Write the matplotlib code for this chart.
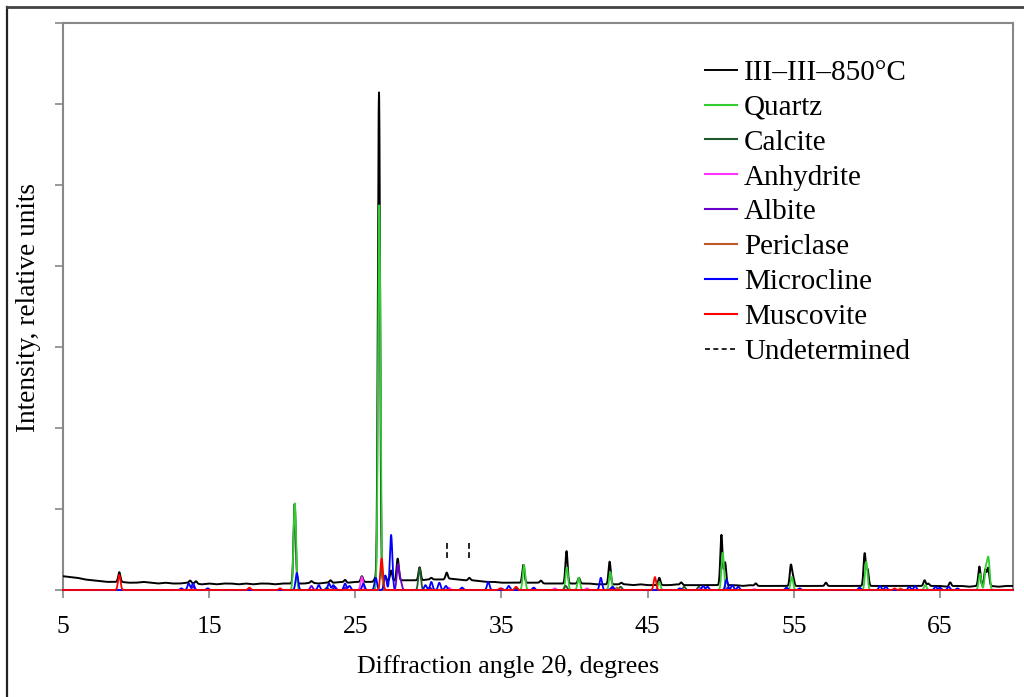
import numpy as np
import matplotlib
matplotlib.use("Agg")
import matplotlib.pyplot as plt
from matplotlib.lines import Line2D

plt.rcParams['font.family'] = ['Liberation Serif', 'DejaVu Serif']

# ---------------- data ----------------
x_ticks = [5, 15, 25, 35, 45, 55, 65]

# background of measured pattern, every 0.5 degree from 5 to 70
bg_start, bg_step = 5.0, 0.5
bg_values = [0.17, 0.16, 0.15, 0.13, 0.12, 0.11, 0.10, 0.10, 0.10, 0.09,
             0.09, 0.10, 0.09, 0.08, 0.09, 0.08, 0.08, 0.09, 0.08, 0.07,
             0.08, 0.07, 0.08, 0.08, 0.07, 0.08, 0.07, 0.08, 0.08, 0.07,
             0.08, 0.08, 0.08, 0.08, 0.09, 0.08, 0.09, 0.09, 0.10, 0.09,
             0.10, 0.10, 0.10, 0.10, 0.11, 0.11, 0.12, 0.12, 0.12, 0.12,
             0.13, 0.13, 0.13, 0.14, 0.13, 0.12, 0.12, 0.11, 0.10, 0.10,
             0.09, 0.09, 0.09, 0.09, 0.09, 0.09, 0.08, 0.08, 0.08, 0.08,
             0.08, 0.08, 0.08, 0.07, 0.07, 0.07, 0.07, 0.07, 0.06, 0.07,
             0.06, 0.06, 0.06, 0.06, 0.07, 0.06, 0.06, 0.06, 0.06, 0.06,
             0.06, 0.06, 0.06, 0.05, 0.06, 0.05, 0.05, 0.05, 0.05, 0.05,
             0.05, 0.05, 0.05, 0.05, 0.05, 0.05, 0.05, 0.05, 0.05, 0.05,
             0.05, 0.05, 0.05, 0.05, 0.05, 0.05, 0.05, 0.05, 0.05, 0.05,
             0.05, 0.04, 0.05, 0.05, 0.04, 0.05, 0.05, 0.05, 0.04, 0.05,
             0.05]

# measured pattern peaks (2theta, height above background)
sample_pos = [8.85, 13.7, 14.1, 20.85, 22.0, 23.3, 24.3, 25.45, 26.35, 26.62,
              27.05, 27.45, 27.9, 29.4, 30.2, 31.25, 32.8, 36.5, 37.7, 39.45,
              40.3, 42.4, 43.2, 45.8, 47.3, 50.05, 50.3, 52.4, 54.8, 54.95,
              57.2, 59.85, 60.05, 63.95, 64.2, 65.7, 67.7, 68.1, 68.3]
sample_int = [0.12, 0.03, 0.03, 0.98, 0.02, 0.03, 0.03, 0.07, 0.04, 6.04,
              0.06, 0.13, 0.27, 0.16, 0.02, 0.08, 0.03, 0.22, 0.03, 0.40,
              0.07, 0.28, 0.02, 0.09, 0.03, 0.62, 0.28, 0.03, 0.25, 0.10,
              0.04, 0.40, 0.20, 0.07, 0.03, 0.05, 0.24, 0.20, 0.22]

quartz_pos = [20.86, 26.64, 36.54, 39.47, 40.29, 42.45, 45.79, 50.14, 54.87,
              59.96, 64.0, 67.74, 68.14, 68.32]
quartz_int = [1.07, 4.75, 0.31, 0.28, 0.15, 0.22, 0.10, 0.46, 0.16,
              0.35, 0.06, 0.20, 0.26, 0.38]

calcite_pos = [23.05, 29.4, 36.0, 39.4, 43.15, 47.5, 48.5]
calcite_int = [0.03, 0.27, 0.03, 0.05, 0.04, 0.04, 0.04]

anhydrite_pos = [25.45, 31.4, 38.65, 40.85, 48.6, 52.3]
anhydrite_int = [0.16, 0.03, 0.02, 0.02, 0.02, 0.01]

albite_pos = [13.9, 22.0, 23.6, 24.3, 27.92, 28.1, 30.1, 35.0, 42.5, 50.5]
albite_int = [0.04, 0.05, 0.04, 0.03, 0.31, 0.10, 0.03, 0.02, 0.02, 0.03]

periclase_pos = [42.9, 62.3]
periclase_int = [0.03, 0.02]

microcline_pos = [13.1, 13.6, 13.9, 14.9, 21.0, 22.5, 23.2, 23.5, 24.3, 24.6,
                  25.55, 26.4, 27.05, 27.45, 29.8, 30.2, 30.75, 31.2, 32.3,
                  34.1, 35.5, 37.2, 41.8, 42.6, 47.2, 48.8, 49.1, 50.4, 50.8,
                  51.2, 54.5, 55.4, 59.5, 60.9, 61.3, 62.9, 63.3, 64.7, 65.0,
                  65.6, 66.2]
microcline_int = [0.02, 0.08, 0.08, 0.02, 0.21, 0.06, 0.08, 0.06, 0.08, 0.05,
                  0.08, 0.15, 0.18, 0.68, 0.06, 0.10, 0.09, 0.05, 0.03,
                  0.10, 0.05, 0.03, 0.15, 0.04, 0.02, 0.05, 0.04, 0.13, 0.06,
                  0.04, 0.03, 0.02, 0.03, 0.05, 0.04, 0.04, 0.05, 0.04, 0.03,
                  0.04, 0.02]

muscovite_pos = [8.85, 17.75, 19.85, 26.8, 34.9, 36.0, 45.5, 61.9]
muscovite_int = [0.185, 0.03, 0.02, 0.39, 0.02, 0.04, 0.16, 0.02]

undetermined_pos = [31.25, 32.8]

# ---------------- helpers ----------------
grid = np.arange(5.0, 70.0 + 1e-9, 0.01)


def profile(pos, inten, sig):
    y = np.zeros_like(grid)
    for p, h in zip(pos, inten):
        y += h * np.exp(-0.5 * ((grid - p) / sig) ** 2)
    return y


bg_x = bg_start + bg_step * np.arange(len(bg_values))
background = np.interp(grid, bg_x, bg_values)
sample = background + profile(sample_pos, sample_int, 0.075)

# ---------------- figure ----------------
fig = plt.figure(figsize=(10.24, 6.97), dpi=100)
ax = fig.add_axes([63 / 1024, 1 - 590 / 697, (1013 - 63) / 1024, (590 - 23) / 697])

phases = [
    ("Quartz", quartz_pos, quartz_int, "#33cc33"),
    ("Calcite", calcite_pos, calcite_int, "#1e5a2a"),
    ("Anhydrite", anhydrite_pos, anhydrite_int, "#ff33ff"),
    ("Albite", albite_pos, albite_int, "#6a00cc"),
    ("Periclase", periclase_pos, periclase_int, "#c0582a"),
    ("Microcline", microcline_pos, microcline_int, "#0000ff"),
    ("Muscovite", muscovite_pos, muscovite_int, "#ff0000"),
]

handles = []
ax.plot(grid, sample, color="black", lw=1.4, zorder=3)
handles.append(Line2D([], [], color="black", lw=1.4, label="III\u2013III\u2013850\u00b0C"))
for i, (name, pos, inten, col) in enumerate(phases):
    ax.plot(grid, profile(pos, inten, 0.085), color=col, lw=1.3,
            zorder=4 + i, clip_on=False)
    handles.append(Line2D([], [], color=col, lw=1.5, label=name))

for p in undetermined_pos:
    ax.plot([p, p], [0.40, 0.58], color="black", lw=1.2,
            linestyle=(0, (3.5, 2.0)), zorder=12)
handles.append(Line2D([], [], color="black", lw=1.2, linestyle=(0, (3.0, 2.0)),
                      label="Undetermined"))

ax.set_xlim(5, 70)
ax.set_ylim(0, 7)
ax.set_xticks(x_ticks)
ax.set_xticklabels([str(t) for t in x_ticks], fontsize=18.5)
ax.set_yticks(np.arange(0, 8, 1))
ax.set_yticklabels([])
ax.tick_params(axis="both", direction="out", length=6, width=1.2,
               color="#888888")
ax.tick_params(axis="x", pad=12.5)
for s in ax.spines.values():
    s.set_color("#888888")
    s.set_linewidth(1.5)

fig.text(508 / 1024, 1 - 666 / 697, "Diffraction angle 2\u03b8, degrees",
         fontsize=18.7, ha="center", va="center")
fig.text(29 / 1024, 1 - 308 / 697, "Intensity, relative units",
         fontsize=19.6, ha="center", va="center", rotation=90)

leg = ax.legend(handles=handles, loc="upper left",
                bbox_to_anchor=(705 / 1024, 1 - 59.5 / 697),
                bbox_transform=fig.transFigure, frameon=False,
                fontsize=21, handlelength=1.1, handletextpad=0.24,
                labelspacing=0.29, borderaxespad=0, borderpad=0)

# outer frame (left and top edges visible)
fx = 7 / 1024
fy = 1 - 7 / 697
fig.add_artist(Line2D([fx, fx], [0, fy], transform=fig.transFigure,
                      color="#222222", lw=1.6))
fig.add_artist(Line2D([fx, 1], [fy, fy], transform=fig.transFigure,
                      color="#444444", lw=2.0))

fig.savefig("out.png", dpi=100)
